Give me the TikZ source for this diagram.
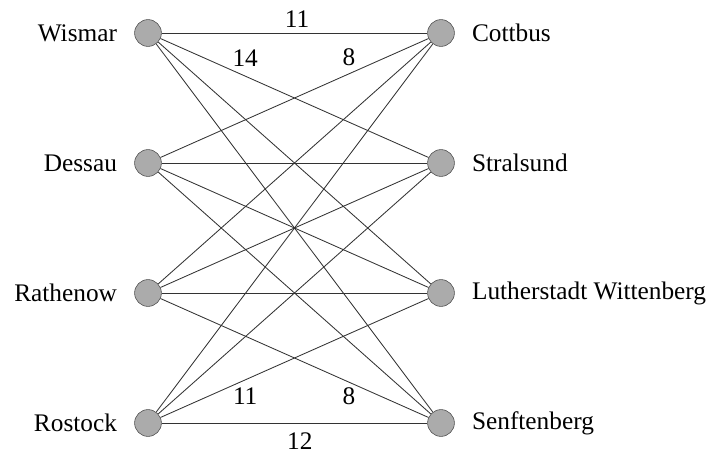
\documentclass[tikz,border=0pt]{standalone}
\usepackage{fontspec}
\setmainfont{Liberation Serif}
\usetikzlibrary{positioning}

\begin{document}
\begin{tikzpicture}[x=0.025cm, y=-0.025cm,
        font=\rmfamily\fontsize{18}{21}\selectfont,
        city/.style={circle, draw=black!70, fill=black!33,
                     minimum size=6.7mm, inner sep=0pt},
        road/.style={draw=black!80, line width=0.6pt},
        node distance=3.1mm]
      \useasboundingbox (0,0) rectangle (719,453);
      \node[city] (wis) at (148, 33)  {};
      \node[city] (des) at (148, 163) {};
      \node[city] (rat) at (148, 293) {};
      \node[city] (ros) at (148, 423) {};
      \node[city] (cot) at (441, 33)  {};
      \node[city] (str) at (441, 163) {};
      \node[city] (lut) at (441, 293) {};
      \node[city] (sen) at (441, 423) {};
      \node[left=of wis]  (wisName) {Wismar};
      \node[left=of des]  (desName) {Dessau};
      \node[left=of rat]  (ratName) {Rathenow};
      \node[left=of ros]  (rosName) {Rostock};
      \node[right=of cot] (cotName) {Cottbus};
      \node[right=of str] (strName) {Stralsund};
      \node[right=of lut] (lutName) {Lutherstadt Wittenberg};
      \node[right=of sen] (senName) {Senftenberg};
      \draw[road] (wis) -- node[above, pos=.51] {11} (cot);
      \draw[road] (wis) -- node[above, pos=.316, yshift=3pt] {14} (str);
      \draw[road] (wis) -- (lut);
      \draw[road] (wis) -- (sen);
      \draw[road] (des) -- node[above, pos=.703, yshift=2pt] {8} (cot);
      \draw[road] (des) -- (str);
      \draw[road] (des) -- (lut);
      \draw[road] (des) -- (sen);
      \draw[road] (rat) -- (cot);
      \draw[road] (rat) -- (str);
      \draw[road] (rat) -- (lut);
      \draw[road] (rat) -- node[below, pos=.703] {8} (sen);
      \draw[road] (ros) -- (cot);
      \draw[road] (ros) -- (str);
      \draw[road] (ros) -- node[below, pos=.316, yshift=-2pt] {11} (lut);
      \draw[road] (ros) -- node[below, pos=.52, yshift=-3pt] {12} (sen);
    \end{tikzpicture}
\end{document}
